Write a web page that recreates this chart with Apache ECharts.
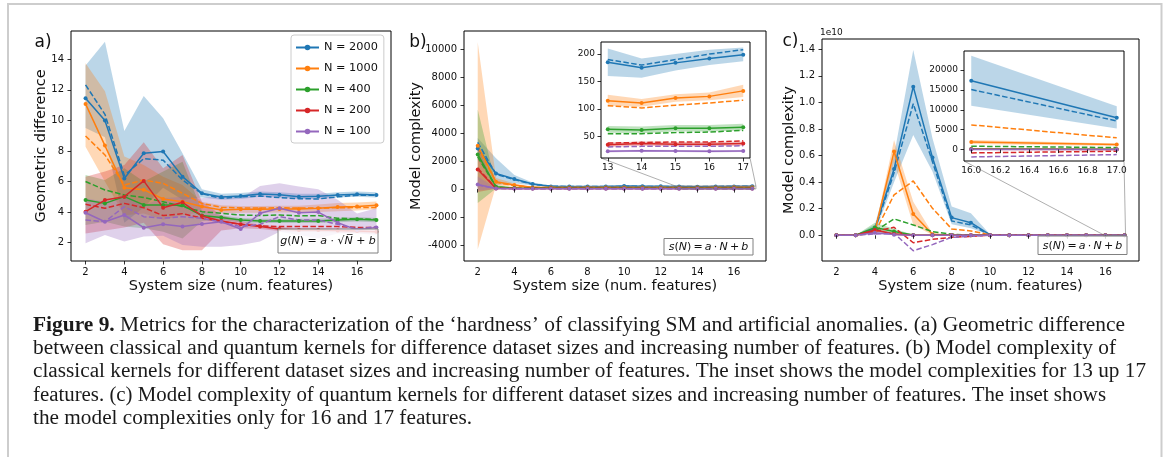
<!DOCTYPE html>
<html>
<head>
<meta charset="utf-8">
<script src="https://cdn.jsdelivr.net/npm/echarts@6/dist/echarts.min.js"></script>
<style>
html, body { margin: 0; padding: 0; background: #fff; }
#chart { width: 1167px; height: 457px; }
</style>
</head>
<body>
<div id="chart"></div>
<script>
// ---- data ----
const features = [2, 3, 4, 5, 6, 7, 8, 9, 10, 11, 12, 13, 14, 15, 16, 17];
const nLabels = ['N = 2000', 'N = 1000', 'N = 400', 'N = 200', 'N = 100'];
const palette = ['#1f77b4', '#ff7f0e', '#2ca02c', '#d62728', '#9467bd'];

// a) geometric difference: mean, fit g(N), band low / high
const geoMean2000 = [11.45, 10.0, 6.2, 7.85, 7.96, 6.32, 5.23, 4.99, 5.05, 5.19, 5.14, 5.01, 5.03, 5.12, 5.16, 5.12];
const geoFit2000 = [12.32, 10.4, 6.4, 7.5, 7.4, 6.1, 5.2, 4.9, 5.0, 5.05, 4.95, 4.88, 4.86, 5.0, 5.1, 5.1];
const geoLow2000 = [9.5, 8.9, 3.3, 4.3, 5.6, 4.8, 4.95, 4.8, 4.85, 5.0, 4.95, 4.85, 4.85, 4.95, 5.0, 4.95];
const geoHigh2000 = [13.6, 15.15, 9.3, 11.6, 10.14, 7.85, 5.5, 5.2, 5.25, 5.35, 5.3, 5.2, 5.2, 5.3, 5.35, 5.3];

const geoMean1000 = [11.08, 8.35, 5.6, 5.47, 4.86, 4.68, 4.36, 4.14, 4.18, 4.18, 4.2, 4.2, 4.25, 4.33, 4.36, 4.44];
const geoFit1000 = [8.98, 7.74, 5.77, 6.1, 5.88, 5.23, 4.57, 4.31, 4.27, 4.27, 4.28, 4.27, 4.27, 4.28, 4.3, 4.3];
const geoLow1000 = [8.28, 6.0, 3.8, 3.9, 3.5, 3.8, 4.0, 3.9, 3.95, 3.95, 3.98, 3.98, 4.0, 4.06, 4.1, 4.18];
const geoHigh1000 = [13.74, 11.9, 7.63, 7.08, 6.32, 5.77, 4.68, 4.45, 4.4, 4.4, 4.42, 4.42, 4.5, 4.6, 4.62, 4.7];

const geoMean400 = [4.79, 4.57, 5.01, 4.47, 4.47, 4.45, 3.77, 3.64, 3.48, 3.42, 3.42, 3.42, 3.42, 3.48, 3.53, 3.48];
const geoFit400 = [6.0, 5.45, 5.12, 4.95, 4.68, 4.36, 4.03, 3.92, 3.81, 3.77, 3.81, 3.75, 3.77, 3.6, 3.55, 3.53];
const geoLow400 = [3.16, 3.37, 3.05, 2.94, 2.72, 2.28, 3.4, 3.48, 3.34, 3.28, 3.28, 3.28, 3.28, 3.34, 3.38, 3.34];
const geoHigh400 = [6.43, 6.1, 6.87, 6.0, 6.65, 7.3, 4.1, 3.8, 3.62, 3.56, 3.56, 3.56, 3.56, 3.62, 3.68, 3.62];

const geoMean200 = [4.03, 4.79, 5.01, 6.04, 4.29, 4.64, 3.75, 3.42, 3.2, 3.05, 2.89, 2.83, 2.83, 2.79, 2.76, 2.72];
const geoFit200 = [4.51, 4.25, 4.57, 4.29, 3.77, 3.9, 3.6, 3.37, 3.2, 3.09, 3.05, 3.05, 3.05, 3.05, 3.0, 3.0];
const geoLow200 = [2.6, 2.8, 3.0, 3.3, 1.9, 1.5, 1.5, 2.8, 2.95, 2.9, 2.76, 2.7, 2.7, 2.66, 2.63, 2.6];
const geoHigh200 = [6.32, 6.65, 7.08, 8.57, 6.87, 7.74, 4.68, 3.8, 3.4, 3.2, 3.02, 2.96, 2.96, 2.92, 2.89, 2.85];

const geoMean100 = [3.96, 3.37, 3.81, 2.98, 3.2, 3.05, 3.22, 3.37, 2.89, 3.92, 4.25, 3.96, 4.0, 3.31, 2.83, 3.0];
const geoFit100 = [3.48, 3.37, 4.36, 3.7, 3.6, 3.7, 3.6, 3.33, 3.05, 3.2, 3.7, 3.48, 3.48, 3.2, 2.89, 3.05];
const geoLow100 = [1.96, 2.5, 2.07, 2.4, 2.46, 1.85, 1.74, 1.74, 1.85, 2.07, 2.72, 2.5, 2.28, 2.6, 2.6, 2.5];
const geoHigh100 = [4.9, 4.68, 5.1, 4.47, 4.9, 5.0, 4.9, 5.1, 4.9, 5.7, 5.89, 5.67, 5.5, 4.8, 3.9, 4.25];

// b) model complexity, classical kernels
const clsMean2000 = [2912, 1120, 716, 358, 190, 185, 185, 190, 230, 205, 195, 185, 175, 184, 192, 199];
const clsFit2000 = [3341, 1050, 680, 340, 210, 190, 188, 190, 195, 195, 192, 190, 180, 190, 200, 208];
const clsLow2000 = [2100, 280, 420, 250, 130, 140, 150, 160, 200, 175, 170, 160, 157, 170, 180, 187];
const clsHigh2000 = [3650, 2200, 1000, 470, 260, 230, 220, 220, 280, 235, 215, 210, 192, 200, 208, 212];

const clsMean1000 = [3103, 525, 286, 120, 120, 115, 115, 115, 120, 118, 116, 115, 111, 120, 123, 133];
const clsFit1000 = [3030, 480, 250, 130, 110, 108, 106, 106, 106, 106, 106, 106, 102, 107, 111, 116];
const clsLow1000 = [-4300, 250, 170, 80, 100, 100, 102, 104, 106, 106, 106, 106, 104, 113, 116, 122];
const clsHigh1000 = [10500, 800, 400, 180, 140, 130, 128, 128, 132, 130, 128, 126, 118, 127, 130, 144];

const clsMean400 = [2482, 167, 70, 62, 60, 62, 62, 62, 63, 62, 62, 63, 62, 65, 65, 67];
const clsFit400 = [2300, 150, 65, 56, 55, 55, 55, 55, 55, 55, 55, 55, 55, 57, 58, 61];
const clsLow400 = [-1000, 50, 40, 54, 54, 56, 56, 56, 57, 56, 56, 57, 56, 59, 59, 61];
const clsHigh400 = [5700, 300, 100, 70, 66, 68, 68, 68, 69, 68, 68, 69, 68, 71, 71, 73];

const clsMean200 = [1408, 48, 40, 37, 36, 36, 36, 36, 36, 36, 36, 35, 37, 36, 36, 37];
const clsFit200 = [1500, 60, 42, 40, 38, 38, 38, 38, 38, 38, 38, 38, 39, 40, 40, 42];
const clsLow200 = [-200, 20, 30, 32, 32, 32, 32, 32, 32, 32, 32, 31, 33, 32, 32, 33];
const clsHigh200 = [3000, 90, 50, 42, 40, 40, 40, 40, 40, 40, 40, 39, 41, 40, 40, 41];

const clsMean100 = [334, 40, 26, 24, 24, 23, 24, 23, 24, 23, 24, 23, 24, 23.5, 23, 23.5];
const clsFit100 = [300, 45, 32, 31, 31, 31, 31, 31, 31, 31, 31, 31, 32, 32, 32, 33];
const clsLow100 = [-100, 20, 22, 22, 22, 21, 22, 21, 22, 21, 22, 21, 22, 21.5, 21, 21.5];
const clsHigh100 = [900, 60, 30, 26, 26, 25, 26, 25, 26, 25, 26, 25, 26, 25.5, 25, 25.5];

// c) model complexity, quantum kernels (raw values, axis shows x1e10)
const qMean2000 = [0, 0, 0.05e10, 0.499e10, 1.119e10, 0.585e10, 0.133e10, 0.095e10, 3e7, 5e6, 1e6, 3e5, 1e5, 5e4, 17300, 8000];
const qFit2000 = [0, 0, 0.04e10, 0.47e10, 0.99e10, 0.554e10, 0.108e10, 0.078e10, 2e7, 4e6, 8e5, 2e5, 8e4, 4e4, 15100, 7200];
const qLow2000 = [0, 0, 0.02e10, 0.4e10, 0.755e10, 0.48e10, 0.083e10, 0.053e10, 1e7, 2e6, 4e5, 1e5, 5e4, 2.5e4, 11000, 5300];
const qHigh2000 = [0, 0, 0.08e10, 0.6e10, 1.395e10, 0.73e10, 0.216e10, 0.166e10, 6e7, 1e7, 2e6, 6e5, 2e5, 8e4, 23600, 10900];

const qMean1000 = [0, 0, 0.03e10, 0.63e10, 0.16e10, 0.008e10, 8e6, 3e6, 1e6, 3e5, 1e5, 4e4, 1.5e4, 6e3, 1900, 1250];
const qFit1000 = [0, 0, 0.02e10, 0.304e10, 0.409e10, 0.203e10, 0.048e10, 0.033e10, 0.003e10, 1e6, 3e5, 1e5, 4e4, 1.5e4, 6200, 2950];
const qLow1000 = [0, 0, 0.02e10, 0.554e10, 0.078e10, 0.002e10, 4e6, 1.5e6, 5e5, 1.5e5, 5e4, 2e4, 8e3, 3e3, 1400, 900];
const qHigh1000 = [0, 0, 0.04e10, 0.718e10, 0.253e10, 0.015e10, 1.2e7, 4.5e6, 1.5e6, 4.5e5, 1.5e5, 6e4, 2.2e4, 9e3, 2400, 1500];

const qMean400 = [0, 0, 0.058e10, 0.028e10, 0.003e10, 1e6, 3e5, 1e5, 3e4, 1e4, 3e3, 1e3, 500, 300, 150, 100];
const qFit400 = [0, 0, 0.03e10, 0.123e10, 0.078e10, 0.028e10, 0.008e10, 0.002e10, 2e6, 5e5, 1e5, 3e4, 1e4, 3e3, 840, 500];
const qLow400 = [0, 0, 0.025e10, 0.01e10, 0.001e10, 5e5, 1e5, 5e4, 1e4, 5e3, 1e3, 500, 200, 100, 50, 30];
const qHigh400 = [0, 0, 0.095e10, 0.05e10, 0.005e10, 2e6, 5e5, 2e5, 5e4, 2e4, 5e3, 2e3, 800, 500, 250, 170];

const qMean200 = [0, 0, 0.04e10, 0.01e10, 1e6, 3e5, 1e5, 3e4, 1e4, 3e3, 1e3, 500, 200, 100, 50, 30];
const qFit200 = [0, 0, 0.03e10, 0.06e10, -0.056e10, -0.03e10, -0.015e10, -0.008e10, -1e6, -3e5, -1e5, -3e4, -1e4, -3e3, -840, -420];
const qLow200 = [0, 0, 0.03e10, 0.002e10, 0, 0, 0, 0, 0, 0, 0, 0, 0, 0, 0, 0];
const qHigh200 = [0, 0, 0.05e10, 0.02e10, 0.002e10, 1e6, 3e5, 1e5, 3e4, 1e4, 3e3, 1e3, 400, 200, 100, 60];

const qMean100 = [0, 0, 0.02e10, 0.005e10, 1e5, 3e4, 1e4, 3e3, 1e3, 300, 100, 50, 20, 10, 5, 3];
const qFit100 = [0, 0, 0.01e10, 0.015e10, -0.116e10, -0.07e10, -0.015e10, -0.008e10, -2e6, -5e5, -1.5e5, -5e4, -1.5e4, -5e3, -1850, -1260];
const qLow100 = [0, 0, 0.01e10, 0.002e10, 0, 0, 0, 0, 0, 0, 0, 0, 0, 0, 0, 0];
const qHigh100 = [0, 0, 0.03e10, 0.01e10, 2e5, 6e4, 2e4, 6e3, 2e3, 600, 200, 100, 40, 20, 10, 6];

// tick labels
const ticksFeat = [2, 4, 6, 8, 10, 12, 14, 16];
const ticksGeo = [2, 4, 6, 8, 10, 12, 14];
const ticksCls = [-4000, -2000, 0, 2000, 4000, 6000, 8000, 10000];
const ticksClsInsetX = [13, 14, 15, 16, 17];
const ticksClsInsetY = [50, 100, 150, 200];
const ticksQ = [0, 0.2e10, 0.4e10, 0.6e10, 0.8e10, 1.0e10, 1.2e10, 1.4e10];
const ticksQInsetX = [16.0, 16.2, 16.4, 16.6, 16.8, 17.0];
const ticksQInsetY = [0, 5000, 10000, 15000, 20000];

const geo = {
	mean: [geoMean2000, geoMean1000, geoMean400, geoMean200, geoMean100],
	fit: [geoFit2000, geoFit1000, geoFit400, geoFit200, geoFit100],
	low: [geoLow2000, geoLow1000, geoLow400, geoLow200, geoLow100],
	high: [geoHigh2000, geoHigh1000, geoHigh400, geoHigh200, geoHigh100],
};
const cls = {
	mean: [clsMean2000, clsMean1000, clsMean400, clsMean200, clsMean100],
	fit: [clsFit2000, clsFit1000, clsFit400, clsFit200, clsFit100],
	low: [clsLow2000, clsLow1000, clsLow400, clsLow200, clsLow100],
	high: [clsHigh2000, clsHigh1000, clsHigh400, clsHigh200, clsHigh100],
};
const qnt = {
	mean: [qMean2000, qMean1000, qMean400, qMean200, qMean100],
	fit: [qFit2000, qFit1000, qFit400, qFit200, qFit100],
	low: [qLow2000, qLow1000, qLow400, qLow200, qLow100],
	high: [qHigh2000, qHigh1000, qHigh400, qHigh200, qHigh100],
};

// ---- chart ----
const FONT = 'DejaVu Sans';
const chart = echarts.init(document.getElementById('chart'), null, { renderer: 'canvas' });

const rgba = (hex, a) => {
	const n = parseInt(hex.slice(1), 16);
	return 'rgba(' + (n >> 16) + ',' + ((n >> 8) & 255) + ',' + (n & 255) + ',' + a + ')';
};

const allIdx = features.map((f, i) => i);
const insetClsIdx = [11, 12, 13, 14, 15];
const insetQIdx = [14, 15];

const series = [];
// shaded band drawn as one polygon through the axis scales
function bandSeries(grid, idx, low, high, color, z) {
	const data = idx.map((i) => [features[i], low[i], high[i]]);
	return {
		type: 'custom',
		xAxisIndex: grid,
		yAxisIndex: grid,
		z: z,
		silent: true,
		clip: true,
		data: data,
		encode: { x: 0, y: [1, 2] },
		renderItem: function (params, api) {
			if (params.dataIndex !== 0) return null;
			const up = data.map((d) => api.coord([d[0], d[2]]));
			const dn = data.map((d) => api.coord([d[0], d[1]])).reverse();
			return { type: 'polygon', shape: { points: up.concat(dn) }, style: { fill: rgba(color, 0.3) } };
		},
	};
}
function addPanel(grid, idx, set, z, named) {
	for (let k = 0; k < 5; k++) {
		series.push(bandSeries(grid, idx, set.low[k], set.high[k], palette[k], z));
	}
	for (let k = 0; k < 5; k++) {
		series.push({
			type: 'line',
			name: named ? nLabels[k] : 'g' + grid + '-' + k,
			xAxisIndex: grid,
			yAxisIndex: grid,
			z: z + 1,
			silent: true,
			data: idx.map((i) => [features[i], set.mean[k][i]]),
			symbol: 'circle',
			symbolSize: 4,
			showSymbol: true,
			color: palette[k],
			itemStyle: { color: palette[k] },
			lineStyle: { color: palette[k], width: 1.5 },
		});
		series.push({
			type: 'line',
			name: 'fit' + grid + '-' + k,
			xAxisIndex: grid,
			yAxisIndex: grid,
			z: z + 1,
			silent: true,
			data: idx.map((i) => [features[i], set.fit[k][i]]),
			showSymbol: false,
			symbol: 'none',
			lineStyle: { color: palette[k], width: 1.5, type: [5.5, 2.4] },
		});
	}
}
addPanel(0, allIdx, geo, 1, true);
addPanel(1, allIdx, cls, 1, false);
addPanel(2, insetClsIdx, cls, 11, false);
addPanel(3, allIdx, qnt, 1, false);
addPanel(4, insetQIdx, qnt, 11, false);

const grids = [
	{ left: 71, top: 31, width: 320, height: 230 },
	{ left: 464, top: 31, width: 302, height: 230 },
	{ left: 601, top: 42, width: 149, height: 116, z: 10, backgroundColor: '#fff' },
	{ left: 822, top: 39, width: 317, height: 222 },
	{ left: 964, top: 51, width: 160, height: 110, z: 10, backgroundColor: '#fff' },
].map((g) => Object.assign({ show: true, borderColor: '#000', borderWidth: 1, backgroundColor: 'transparent' }, g));

function axis(grid, min, max, ticks, fmt, size, margin, z) {
	return {
		type: 'value',
		gridIndex: grid,
		min: min,
		max: max,
		z: z,
		axisLine: { show: false },
		splitLine: { show: false },
		axisTick: { show: true, length: 3.5, lineStyle: { color: '#000', width: 0.8 }, customValues: ticks },
		axisLabel: {
			customValues: ticks,
			formatter: fmt,
			fontSize: size,
			fontFamily: FONT,
			color: '#111',
			margin: margin,
		},
	};
}
const intFmt = (v) => String(Math.round(v));
const xAxes = [
	axis(0, 1.25, 17.75, ticksFeat, intFmt, 10, 6, 3),
	axis(1, 1.25, 17.75, ticksFeat, intFmt, 10, 6, 3),
	axis(2, 12.8, 17.2, ticksClsInsetX, intFmt, 9, 5, 13),
	axis(3, 1.25, 17.75, ticksFeat, intFmt, 10, 6, 3),
	axis(4, 15.95, 17.05, ticksQInsetX, (v) => v.toFixed(1), 9, 5, 13),
];
const yAxes = [
	axis(0, 0.8, 15.85, ticksGeo, intFmt, 10, 7, 3),
	axis(1, -5144, 11309, ticksCls, intFmt, 10, 7, 3),
	axis(2, 10.8, 222, ticksClsInsetY, intFmt, 9, 6, 13),
	axis(3, -0.1935e10, 1.4775e10, ticksQ, (v) => (v / 1e10).toFixed(1), 10, 7, 3),
	axis(4, -2874, 24790, ticksQInsetY, intFmt, 9, 6, 13),
];

chart.setOption({
	animation: false,
	backgroundColor: '#fff',
	grid: grids,
	xAxis: xAxes,
	yAxis: yAxes,
	legend: {
		orient: 'vertical',
		left: 291,
		top: 35,
		data: nLabels,
		selectedMode: false,
		itemWidth: 23,
		itemHeight: 7,
		itemGap: 10,
		padding: [7, 6, 6, 4],
		borderColor: '#cccccc',
		borderWidth: 1,
		borderRadius: 3,
		backgroundColor: 'rgba(255,255,255,0.8)',
		textStyle: { fontFamily: FONT, fontSize: 11.3, color: '#111' },
	},
	series: series,
});

// ---- annotations ----
const g = [];
const txt = (x, y, text, size, extra) =>
	Object.assign({ type: 'text', x: x, y: y, z: 20, silent: true, style: Object.assign({ text: text, fontFamily: FONT, fontSize: size, fill: '#111', align: 'center', verticalAlign: 'middle' }, extra || {}) });

// outer frame
g.push({ type: 'rect', z: 0, silent: true, shape: { x: 8, y: 4, width: 1153.5, height: 480 }, style: { fill: null, stroke: '#cdcdcd', lineWidth: 2 } });

// panel letters
g.push(txt(43, 43, 'a)', 17));
g.push(txt(418, 42.5, 'b)', 17));
g.push(txt(790.5, 42, 'c)', 17));
g.push(txt(820, 33, '1e10', 9, { align: 'left' }));

// axis titles
const rot = { rotation: Math.PI / 2 };
g.push(Object.assign(txt(41.7, 146, 'Geometric difference', 14.5), rot));
g.push(Object.assign(txt(416.7, 146, 'Model complexity', 14.5), rot));
g.push(Object.assign(txt(789, 150, 'Model complexity', 14.5), rot));
g.push(txt(231, 286, 'System size (num. features)', 14.5));
g.push(txt(615, 286, 'System size (num. features)', 14.5));
g.push(txt(980.5, 286, 'System size (num. features)', 14.5));

// formula boxes
const mathRich = {
	i: { fontFamily: FONT, fontStyle: 'italic', fontSize: 11, fill: '#111' },
	r: { fontFamily: FONT, fontSize: 11, fill: '#111' },
};
function formulaBox(x, y, w, h, text) {
	g.push({ type: 'rect', z: 20, silent: true, shape: { x: x, y: y, width: w, height: h }, style: { fill: 'rgba(255,255,255,0.8)', stroke: '#808080', lineWidth: 1 } });
	g.push({ type: 'text', z: 21, silent: true, x: x + w / 2, y: y + h / 2 + 0.5, style: { text: text, rich: mathRich, align: 'center', verticalAlign: 'middle' } });
}
formulaBox(278, 229, 100, 24, '{i|g}{r|(}{i|N}{r|) = }{i|a}{r| · √}{i|N\u0305}{r| + }{i|b}');
formulaBox(664, 238.5, 89, 16.5, '{i|s}{r|(}{i|N}{r|)\u2009=\u2009}{i|a}{r|\u2009·\u2009}{i|N}{r|\u2009+\u2009}{i|b}');
formulaBox(1038, 236, 89, 18.5, '{i|s}{r|(}{i|N}{r|)\u2009=\u2009}{i|a}{r|\u2009·\u2009}{i|N}{r|\u2009+\u2009}{i|b}');

// inset zoom indicators, placed through the axes
const px = (grid, v) => chart.convertToPixel({ gridIndex: grid }, v);
const zoomStroke = { stroke: 'rgba(110,110,110,0.55)', lineWidth: 1, fill: null };
function indicate(mainGrid, insetGrid, x0, x1, y0, y1) {
	const a = px(mainGrid, [x0, y1]);
	const b = px(mainGrid, [x1, y0]);
	g.push({ type: 'rect', z: 5, silent: true, shape: { x: a[0], y: a[1], width: b[0] - a[0], height: Math.max(b[1] - a[1], 1) }, style: zoomStroke });
	const il = px(insetGrid, [x0, y0]);
	const ir = px(insetGrid, [x1, y0]);
	g.push({ type: 'line', z: 5, silent: true, shape: { x1: il[0], y1: il[1], x2: a[0], y2: a[1] }, style: zoomStroke });
	g.push({ type: 'line', z: 5, silent: true, shape: { x1: ir[0], y1: ir[1], x2: b[0], y2: a[1] }, style: zoomStroke });
}
indicate(1, 2, 12.8, 17.2, 10.8, 222);
indicate(3, 4, 15.95, 17.05, -2874, 24790);

// caption, each line fitted to its width in the reference
const capFamily = '"Liberation Serif", "DejaVu Serif", serif';
const capSize = 20;
const mctx = document.createElement('canvas').getContext('2d');
const measure = (s, bold) => {
	mctx.font = (bold ? 'bold ' : '') + capSize + 'px ' + capFamily;
	return mctx.measureText(s).width;
};
const capLines = [
	{ bold: 'Figure 9.', text: ' Metrics for the characterization of the \u2018hardness\u2019 of classifying SM and artificial anomalies. (a) Geometric difference', right: 1125, y: 326 },
	{ bold: '', text: 'between classical and quantum kernels for difference dataset sizes and increasing number of features. (b) Model complexity of', right: 1116, y: 349 },
	{ bold: '', text: 'classical kernels for different dataset sizes and increasing number of features. The inset shows the model complexities for 13 up 17', right: 1146, y: 372 },
	{ bold: '', text: 'features. (c) Model complexity of quantum kernels for different dataset sizes and increasing number of features. The inset shows', right: 1106, y: 395.5 },
	{ bold: '', text: 'the model complexities only for 16 and 17 features.', right: 472, y: 419 },
];
const capRich = {
	b: { fontFamily: capFamily, fontSize: capSize, fontWeight: 'bold', fill: '#1a1a1a' },
	n: { fontFamily: capFamily, fontSize: capSize, fill: '#1a1a1a' },
};
capLines.forEach((ln) => {
	const w = measure(ln.bold, true) + measure(ln.text, false);
	const sx = (ln.right - 33) / w;
	const content = (ln.bold ? '{b|' + ln.bold + '}' : '') + '{n|' + ln.text + '}';
	g.push({ type: 'text', z: 20, silent: true, x: 33, y: ln.y, scaleX: sx, style: { text: content, rich: capRich, align: 'left', verticalAlign: 'middle' } });
});

chart.setOption({ graphic: g });
</script>
</body>
</html>
